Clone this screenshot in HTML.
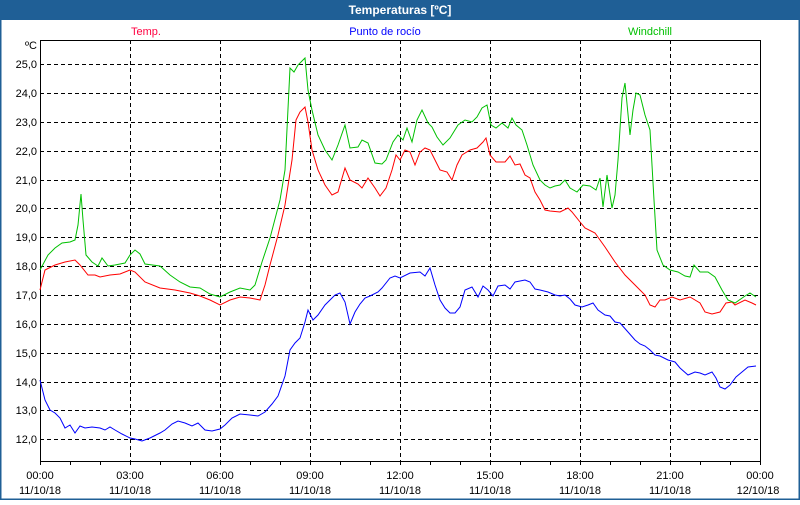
<!DOCTYPE html>
<html><head><meta charset="utf-8"><style>
html,body{margin:0;padding:0;background:#fff;}
body{width:800px;height:500px;overflow:hidden;font-family:"Liberation Sans",sans-serif;}
</style></head><body>
<svg width="800" height="500" xmlns="http://www.w3.org/2000/svg" font-family="Liberation Sans, sans-serif" font-size="11">
<rect x="0" y="0" width="800" height="500" fill="#fff"/>
<rect x="0.5" y="0.5" width="799" height="499" fill="none" stroke="#1f5f96" stroke-width="2"/>
<rect x="0" y="0" width="800" height="20" fill="#1f5f96"/>
<text x="400" y="14" text-anchor="middle" fill="#fff" font-weight="bold" font-size="12">Temperaturas [ºC]</text>
<text x="146" y="35" text-anchor="middle" fill="#ff0040">Temp.</text>
<text x="385" y="35" text-anchor="middle" fill="#0000ff">Punto de rocío</text>
<text x="650" y="35" text-anchor="middle" fill="#00c000">Windchill</text>
<g stroke="#000" stroke-dasharray="4,3" stroke-width="1">
<path d="M130.5 40V461M220.5 40V461M310.5 40V461M400.5 40V461M490.5 40V461M580.5 40V461M670.5 40V461"/>
<path d="M40 64.5H760M40 93.5H760M40 122.5H760M40 151.5H760M40 180.5H760M40 208.5H760M40 237.5H760M40 266.5H760M40 295.5H760M40 324.5H760M40 353.5H760M40 382.5H760M40 410.5H760M40 439.5H760"/>
</g>
<path d="M40.5 40V461.5H760.5V40M40 40.5H760" fill="none" stroke="#000"/>
<g stroke="#000"><path d="M70.5 461v4M100.5 461v4M130.5 461v4M160.5 461v4M190.5 461v4M220.5 461v4M250.5 461v4M280.5 461v4M310.5 461v4M340.5 461v4M370.5 461v4M400.5 461v4M430.5 461v4M460.5 461v4M490.5 461v4M520.5 461v4M550.5 461v4M580.5 461v4M610.5 461v4M640.5 461v4M670.5 461v4M700.5 461v4M730.5 461v4M760.5 461v4M40.5 461v4"/></g>
<g text-anchor="end" fill="#000">
<text x="37" y="49">ºC</text>
<text x="37" y="68">25,0</text><text x="37" y="97">24,0</text><text x="37" y="126">23,0</text><text x="37" y="155">22,0</text><text x="37" y="184">21,0</text><text x="37" y="212">20,0</text><text x="37" y="241">19,0</text><text x="37" y="270">18,0</text><text x="37" y="299">17,0</text><text x="37" y="328">16,0</text><text x="37" y="357">15,0</text><text x="37" y="386">14,0</text><text x="37" y="414">13,0</text><text x="37" y="443">12,0</text>
</g>
<g text-anchor="middle" fill="#000">
<text x="40" y="479">00:00</text><text x="40" y="494">11/10/18</text>
<text x="130" y="479">03:00</text><text x="130" y="494">11/10/18</text>
<text x="220" y="479">06:00</text><text x="220" y="494">11/10/18</text>
<text x="310" y="479">09:00</text><text x="310" y="494">11/10/18</text>
<text x="400" y="479">12:00</text><text x="400" y="494">11/10/18</text>
<text x="490" y="479">15:00</text><text x="490" y="494">11/10/18</text>
<text x="580" y="479">18:00</text><text x="580" y="494">11/10/18</text>
<text x="670" y="479">21:00</text><text x="670" y="494">11/10/18</text>
<text x="760" y="479">00:00</text><text x="758" y="494">12/10/18</text>
</g>
<g fill="none" stroke-width="1">
<polyline stroke="#0000ff" points="40,380 45,400 50,410 55,413 60,418 65,428 70,425 75,433 80,426 85,428 92,427 100,428 105,430 110,427 115,430 122,434 130,438 135,439 142,441 150,438 160,433 165,430 172,424 178,421 185,423 192,426 198,423 205,430 212,431 220,429 225,425 232,418 240,414 250,415 258,416 265,412 272,404 278,396 285,376 290,350 295,343 300,338 305,322 308,310 313,320 318,315 325,305 335,295 340,293 345,302 350,324 355,312 360,304 365,298 370,296 378,292 382,288 390,278 395,276 400,278 410,273 420,272 425,276 430,268 435,285 440,300 445,308 450,313 455,313 460,307 465,290 472,287 478,297 483,286 488,290 493,296 498,286 505,285 510,289 515,282 520,281 525,280 530,282 535,289 540,290 548,292 555,295 560,296 565,295 570,299 575,305 582,307 588,305 593,303 598,310 605,315 610,316 615,322 620,323 628,332 635,340 640,344 645,346 650,350 655,355 660,356 668,360 675,362 680,368 688,375 695,372 700,373 705,375 712,372 716,378 720,387 725,389 730,385 736,377 742,372 748,367 756,366"/>
<polyline stroke="#ff0000" points="40,290 45,270 55,265 65,262 75,260 80,265 88,275 95,275 100,277 110,275 120,274 130,270 135,272 145,282 160,288 175,290 190,293 200,296 210,300 220,305 230,300 240,297 250,298 260,300 265,285 270,265 278,235 285,205 292,160 296,120 300,112 305,107 308,122 312,150 318,170 325,185 332,195 338,192 345,168 350,180 358,184 362,188 368,178 375,188 380,196 386,188 392,170 396,155 400,160 405,150 410,152 415,165 420,152 425,148 430,150 435,160 440,170 447,172 452,180 457,165 462,155 470,150 477,148 483,142 486,138 490,155 496,162 505,162 510,156 515,165 520,164 525,175 530,178 535,192 540,200 545,210 550,211 560,212 568,208 572,212 580,222 585,228 595,233 605,247 615,262 625,275 635,285 645,295 650,305 655,307 660,300 665,300 672,297 680,300 690,297 700,303 705,312 712,314 720,312 726,303 732,302 735,305 745,300 752,303 756,305"/>
<polyline stroke="#00c000" points="40,270 48,255 55,248 62,243 70,242 75,240 78,225 81,194 83,220 86,255 92,262 98,266 102,258 108,266 115,265 125,263 130,255 135,250 140,254 145,264 160,266 170,275 180,282 190,287 200,288 210,294 220,297 230,292 240,288 250,290 255,285 262,262 270,238 280,200 285,170 290,68 294,72 298,65 303,60 305,58 308,90 312,110 318,135 325,150 332,160 338,145 345,125 350,148 358,147 362,140 368,143 375,163 382,164 386,160 393,142 398,135 403,140 407,128 412,142 417,120 422,110 428,123 432,127 437,137 443,145 450,138 458,125 465,120 472,122 477,117 482,108 487,105 491,125 496,128 502,123 508,128 512,118 516,125 522,130 527,145 533,165 540,180 545,185 550,188 555,186 560,185 565,180 570,188 577,192 583,185 590,186 596,190 600,178 603,207 607,175 612,208 615,195 618,160 622,98 625,83 630,135 633,110 636,93 640,95 645,115 650,130 654,200 657,250 663,265 670,270 678,272 685,276 690,277 694,265 700,272 708,272 715,277 722,290 728,300 735,303 745,296 750,293 756,297"/>
</g>
</svg>
</body></html>
